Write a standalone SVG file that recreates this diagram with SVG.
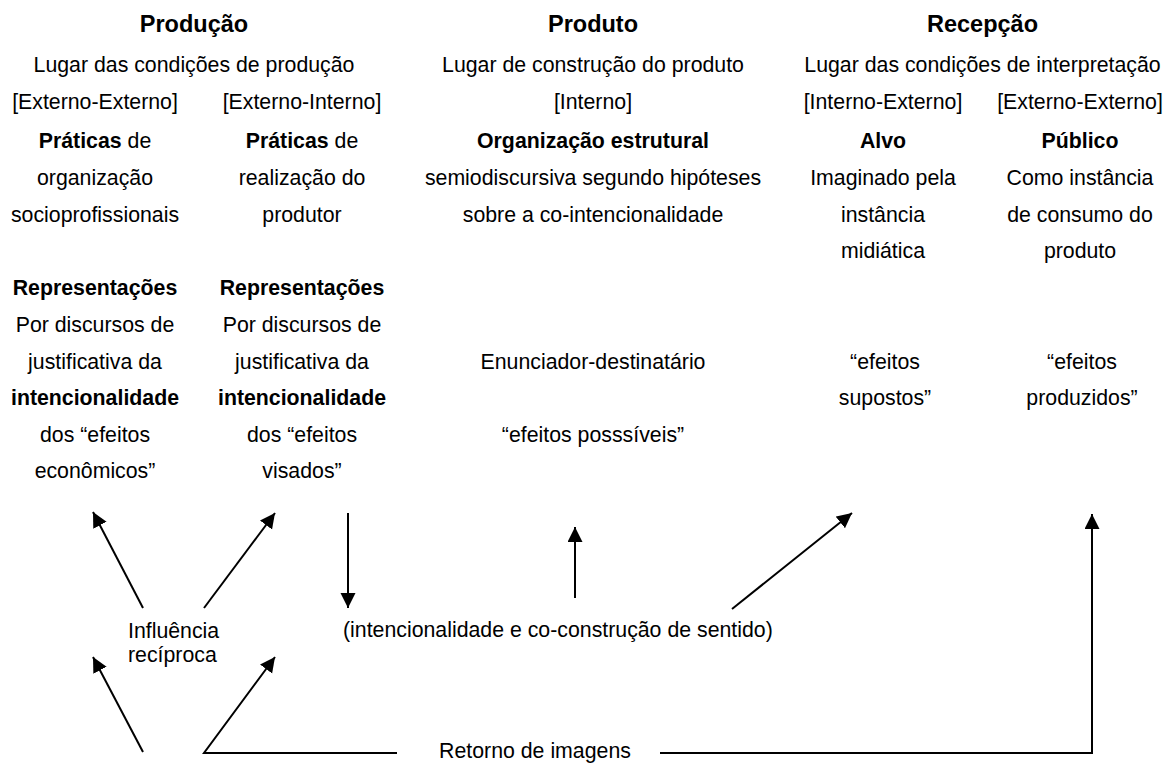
<svg xmlns="http://www.w3.org/2000/svg" width="1169" height="765" viewBox="0 0 1169 765">
<style>
text{font-family:"Liberation Sans",Arial,sans-serif;font-size:21.3px;fill:#000;text-anchor:middle}
.t{font-size:23.5px;font-weight:bold}
.b{font-weight:bold}
.l{text-anchor:start}
.c{stroke:#000;stroke-width:2;fill:none}
</style>
<defs>
<marker id="ah" markerUnits="userSpaceOnUse" markerWidth="16" markerHeight="16" refX="15" refY="7.5" orient="auto">
<path d="M0,0 L15,7.5 L0,15 z" fill="#000"/>
</marker>
</defs>
<rect width="1169" height="765" fill="#fff"/>
<g id="producao">
<text x="194" y="32" class="t">Produção</text>
<text x="194" y="71.5">Lugar das condições de produção</text>
</g>
<g id="externo-externo-prod">
<text x="95" y="109">[Externo-Externo]</text>
<text x="95" y="147.5"><tspan class="b">Práticas</tspan> de</text>
<text x="95" y="184.5">organização</text>
<text x="95" y="221.5">socioprofissionais</text>
<text x="95" y="295" class="b">Representações</text>
<text x="95" y="332">Por discursos de</text>
<text x="95" y="368.5">justificativa da</text>
<text x="95" y="405" class="b">intencionalidade</text>
<text x="95" y="442">dos “efeitos</text>
<text x="95" y="478">econômicos”</text>
</g>
<g id="externo-interno">
<text x="302" y="109">[Externo-Interno]</text>
<text x="302" y="147.5"><tspan class="b">Práticas</tspan> de</text>
<text x="302" y="184.5">realização do</text>
<text x="302" y="221.5">produtor</text>
<text x="302" y="295" class="b">Representações</text>
<text x="302" y="332">Por discursos de</text>
<text x="302" y="368.5">justificativa da</text>
<text x="302" y="405" class="b">intencionalidade</text>
<text x="302" y="442">dos “efeitos</text>
<text x="302" y="478">visados”</text>
</g>
<g id="produto">
<text x="593" y="32" class="t">Produto</text>
<text x="593" y="71.5">Lugar de construção do produto</text>
<text x="593" y="109">[Interno]</text>
<text x="593" y="147.5" class="b">Organização estrutural</text>
<text x="593" y="184.5">semiodiscursiva segundo hipóteses</text>
<text x="593" y="221.5">sobre a co-intencionalidade</text>
<text x="593" y="368.5">Enunciador-destinatário</text>
<text x="593" y="442">“efeitos posssíveis”</text>
</g>
<g id="recepcao">
<text x="982.5" y="32" class="t">Recepção</text>
<text x="982.5" y="71.5">Lugar das condições de interpretação</text>
</g>
<g id="alvo">
<text x="883" y="109">[Interno-Externo]</text>
<text x="883" y="147.5" class="b">Alvo</text>
<text x="883" y="184.5">Imaginado pela</text>
<text x="883" y="221.5">instância</text>
<text x="883" y="258">midiática</text>
<text x="885" y="368.5">“efeitos</text>
<text x="885" y="405">supostos”</text>
</g>
<g id="publico">
<text x="1080" y="109">[Externo-Externo]</text>
<text x="1080" y="147.5" class="b">Público</text>
<text x="1080" y="184.5">Como instância</text>
<text x="1080" y="221.5">de consumo do</text>
<text x="1080" y="258">produto</text>
<text x="1082" y="368.5">“efeitos</text>
<text x="1082" y="405">produzidos”</text>
</g>
<g id="influencia">
<text x="128" y="638" class="l">Influência</text>
<text x="128" y="662" class="l">recíproca</text>
</g>
<g id="co-construcao">
<text x="343" y="637" class="l">(intencionalidade e co-construção de sentido)</text>
</g>
<g id="retorno">
<text x="535" y="758">Retorno de imagens</text>
</g>
<g id="connectors" class="c">
<path class="c" d="M143,608 L93,512" marker-end="url(#ah)"/>
<path class="c" d="M204,608 L275,513" marker-end="url(#ah)"/>
<path class="c" d="M348,513 L348,608" marker-end="url(#ah)"/>
<path class="c" d="M575,598 L575,527" marker-end="url(#ah)"/>
<path class="c" d="M732,609 L852,513" marker-end="url(#ah)"/>
<path class="c" d="M143,752 L93,657" marker-end="url(#ah)"/>
<path class="c" d="M397,753 L204,753 L275,657" marker-end="url(#ah)"/>
<path class="c" d="M660,753 L1092,753 L1092,514" marker-end="url(#ah)"/>
</g>
</svg>
